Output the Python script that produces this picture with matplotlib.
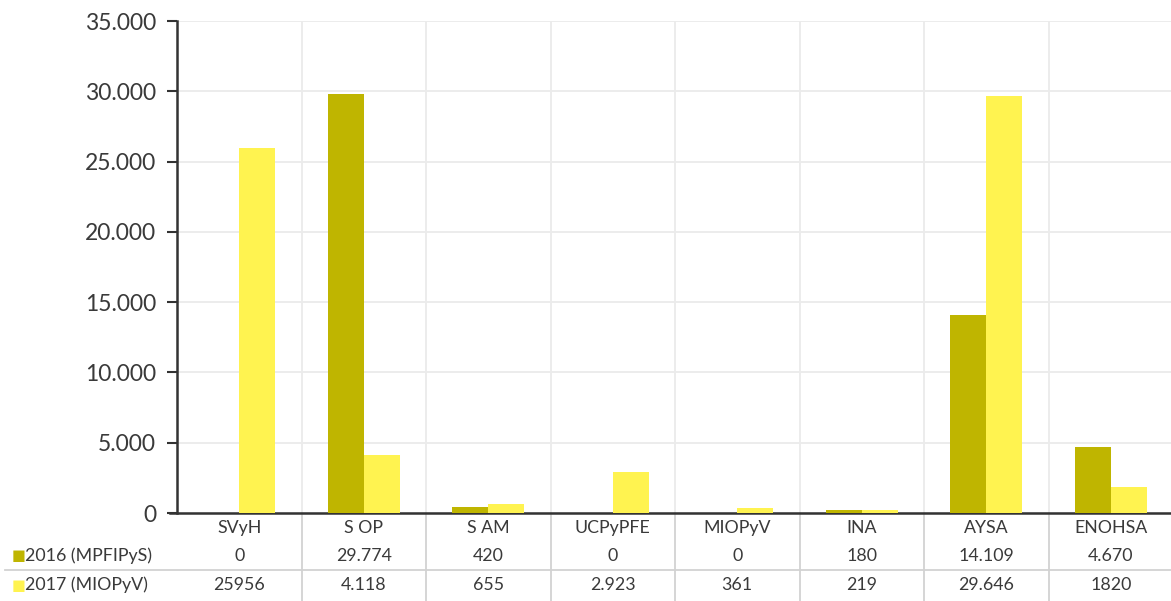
import matplotlib.pyplot as plt
import matplotlib.transforms as mtransforms
import numpy as np

plt.rcParams['font.family'] = ['Lato', 'DejaVu Sans']

categories = ["SVyH", "S OP", "S AM", "UCPyPFE", "MIOPyV", "INA", "AYSA", "ENOHSA"]
series_names = ["2016 (MPFIPyS)", "2017 (MIOPyV)"]
values_2016 = [0, 29774, 420, 0, 0, 180, 14109, 4670]
values_2017 = [25956, 4118, 655, 2923, 361, 219, 29646, 1820]
# table texts as printed in the source (formatting is not uniform there)
labels_2016 = ["0", "29.774", "420", "0", "0", "180", "14.109", "4.670"]
labels_2017 = ["25956", "4.118", "655", "2.923", "361", "219", "29.646", "1820"]
y_ticks = [0, 5000, 10000, 15000, 20000, 25000, 30000, 35000]

c2016 = "#bfb500"
c2017 = "#fff350"
text_c = "#3a3a3a"
grid_c = "#ebebeb"
table_c = "#d2d2d2"
fs = 12.8

fig = plt.figure(figsize=(11.71, 6.01), dpi=100)
ax = fig.add_axes([177 / 1171, 1 - 513 / 601, 996 / 1171, 492 / 601])

x = np.arange(len(categories))
w = 0.29
ax.bar(x - w / 2, values_2016, w, color=c2016, zorder=3)
ax.bar(x + w / 2, values_2017, w, color=c2017, zorder=3)

ax.set_xlim(-0.5, len(categories) - 0.5)
ax.set_ylim(0, 35000)
ax.set_yticks(y_ticks)
ax.set_yticklabels([f"{v:,}".replace(",", ".") for v in y_ticks], fontsize=16.5, color=text_c)
ax.tick_params(axis='y', length=7, width=1.5, color="#333333", pad=8)
ax.set_xticks(np.arange(len(categories) + 1) - 0.5)
ax.set_xticklabels([])
ax.tick_params(axis='x', length=0)
ax.grid(True, color=grid_c, lw=1.3, zorder=0)

for s in ["top", "right"]:
    ax.spines[s].set_visible(False)
ax.spines["left"].set_color("#333333")
ax.spines["left"].set_linewidth(1.8)
ax.spines["bottom"].set_color("#333333")
ax.spines["bottom"].set_linewidth(1.8)
ax.spines["bottom"].set_bounds(-0.56, len(categories) - 0.5)

# data table under the axis
trans = mtransforms.blended_transform_factory(ax.transData, ax.transAxes)
row_y = [-0.031, -0.088, -0.147]
for i, cat in enumerate(categories):
    ax.text(i, row_y[0], cat, transform=trans, ha='center', va='center', fontsize=fs, color=text_c)
    ax.text(i, row_y[1], labels_2016[i], transform=trans, ha='center', va='center', fontsize=fs, color=text_c)
    ax.text(i, row_y[2], labels_2017[i], transform=trans, ha='center', va='center', fontsize=fs, color=text_c)

for b in np.arange(1, len(categories)) - 0.5:
    ax.plot([b, b], [0, -0.25], transform=trans, color=table_c, lw=1.3, clip_on=False)

line_y = 1 - 570 / 601
fig.add_artist(plt.Line2D([5 / 1171, 1], [line_y, line_y], color=table_c, lw=1.3))

fig_rows = [1 - 556 / 601, 1 - 585 / 601]
for name, col, yy in zip(series_names, [c2016, c2017], fig_rows):
    fig.text(12 / 1171, yy, "■", color=col, fontsize=10.5, va='center', ha='left', family='DejaVu Sans')
    fig.text(25 / 1171, yy, name, color=text_c, fontsize=fs, va='center', ha='left')

fig.savefig("out.png", dpi=100)
